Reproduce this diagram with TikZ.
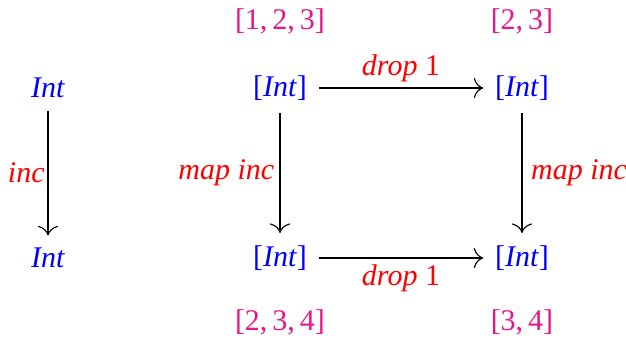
\documentclass[tikz,border=0pt]{standalone}
\usepackage{fontspec}
\setmainfont{Liberation Serif}
\usetikzlibrary{arrows.meta}
\definecolor{obj}{RGB}{0,0,255}
\definecolor{lst}{RGB}{232,20,140}
\definecolor{arr}{RGB}{255,0,0}
\begin{document}
\begin{tikzpicture}[x=0.35pt,y=-0.35pt,
  objnode/.style={text=obj,inner xsep=3.9pt,inner ysep=4.2pt,font=\fontsize{10.5}{12}\selectfont},
  lstnode/.style={text=lst,font=\fontsize{10.5}{12}\selectfont},
  lbl/.style={text=arr,font=\fontsize{10.5}{12}\selectfont},
  map/.style={-{Computer Modern Rightarrow[scale=1.35]},draw=black,line width=0.4pt}]
\useasboundingbox (0,0) rectangle (626,338);
\node[objnode] (a) at (48,88) {\textit{Int}};
\node[objnode] (b) at (48,258) {\textit{Int}};
\node[objnode] (c) at (280,88) {[\textit{Int}]};
\node[objnode] (d) at (522,88) {[\textit{Int}]};
\node[objnode] (e) at (280,258) {[\textit{Int}]};
\node[objnode] (f) at (522,258) {[\textit{Int}]};
\node[lstnode] (l1) at (280,21) {[1,\,2,\,3]};
\node[lstnode] (l2) at (522,21) {[2,\,3]};
\node[lstnode] (l3) at (280,322) {[2,\,3,\,4]};
\node[lstnode] (l4) at (522,322) {[3,\,4]};
\draw[map] (a) -- node[lbl,left,inner sep=1pt] {\textit{inc}} (b);
\draw[map] (c) -- node[lbl,left,inner sep=1.8pt] {\textit{map inc}} (e);
\draw[map] (d) -- node[lbl,right,inner sep=3pt] {\textit{map inc}} (f);
\draw[map] (c) -- node[lbl,above,inner sep=2pt] {\textit{drop} 1} (d);
\draw[map] (e) -- node[lbl,below,inner sep=2pt] {\textit{drop} 1} (f);
\end{tikzpicture}
\end{document}
